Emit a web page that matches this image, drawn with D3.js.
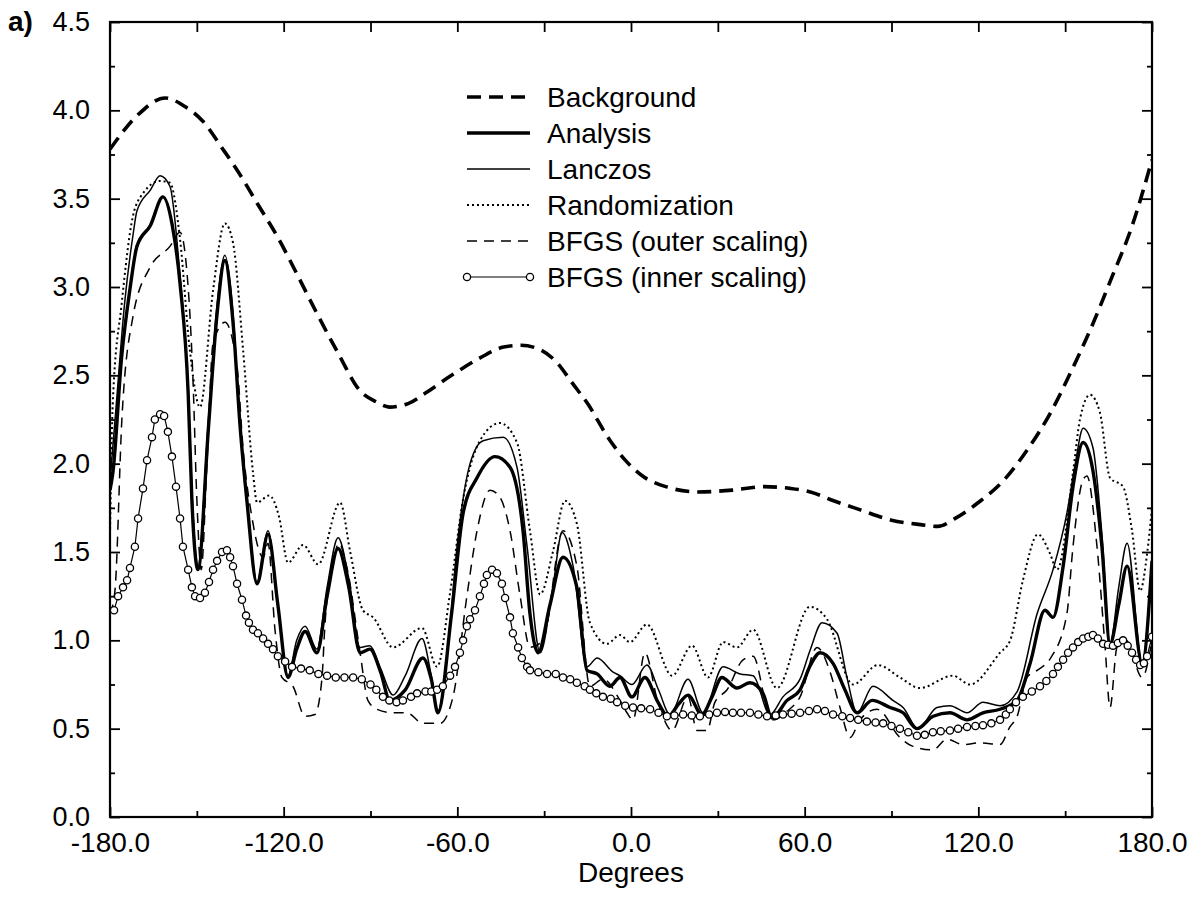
<!DOCTYPE html>
<html>
<head>
<meta charset="utf-8">
<script src="https://cdn.jsdelivr.net/npm/d3@7"></script>
<style>
  body { margin: 0; background: #fff; }
  svg { display: block; }
</style>
</head>
<body>
<svg id="chart" width="1200" height="904"></svg>
<script>
// tick values
var xTicks = [-180, -120, -60, 0, 60, 120, 180];
var xMinorTicks = [-150, -90, -30, 30, 90, 150];
var yTicks = [0, 0.5, 1, 1.5, 2, 2.5, 3, 3.5, 4, 4.5];
var yMinorTicks = [0.25, 0.75, 1.25, 1.75, 2.25, 2.75, 3.25, 3.75, 4.25];

var seriesNames = ["Background", "Analysis", "Lanczos", "Randomization",
  "BFGS (outer scaling)", "BFGS (inner scaling)"];

// [degrees, value]
var background = [[-180,3.78],[-170,3.98],[-161,4.07],[-154,4.02],[-148,3.94],[-141,3.78],
  [-136,3.66],[-129,3.47],[-122,3.28],[-115,3.06],[-108.5,2.85],[-101,2.62],[-94,2.42],
  [-88,2.35],[-83.5,2.32],[-77,2.34],[-71,2.40],[-62,2.50],[-52,2.60],[-44,2.66],[-38,2.67],
  [-32,2.65],[-26,2.58],[-20,2.45],[-15,2.34],[-8,2.15],[-2,2.02],[4,1.93],[12,1.87],
  [23,1.84],[35,1.85],[46,1.87],[55,1.86],[62,1.84],[70,1.79],[79,1.74],[90,1.68],
  [100,1.655],[106,1.645],[112,1.69],[120,1.78],[129,1.91],[137,2.08],[145,2.29],
  [152,2.52],[159,2.77],[166,3.05],[173,3.34],[180,3.72]];

var analysis = [[-180,1.85],[-179,1.95],[-176,2.6],[-173,3.0],[-170.7,3.23],[-166,3.35],
  [-161.7,3.51],[-158.5,3.35],[-155.8,3.02],[-153,2.4],[-151.7,1.79],[-149.6,1.40],
  [-146,2.2],[-143,2.85],[-140.3,3.15],[-137.5,2.8],[-135,2.2],[-132.7,1.79],[-129.2,1.32],
  [-125.4,1.60],[-122,1.2],[-118.5,0.79],[-115.5,0.95],[-112.6,1.05],[-108.5,0.93],
  [-105,1.25],[-101.2,1.52],[-97.5,1.3],[-93.6,0.93],[-90.2,0.95],[-86.5,0.82],[-83.3,0.66],
  [-78,0.72],[-71.9,0.90],[-69,0.78],[-66.7,0.59],[-62,1.15],[-58,1.72],[-53.2,1.92],
  [-47,2.04],[-41.8,1.98],[-37.3,1.62],[-34.9,1.15],[-32.1,0.93],[-28,1.2],[-23.5,1.47],
  [-18.7,1.30],[-15.2,0.83],[-11.7,0.81],[-7.3,0.74],[-3.8,0.79],[0.3,0.68],[4.8,0.79],
  [9.3,0.65],[12.8,0.57],[16.5,0.64],[19.7,0.69],[24.5,0.58],[28,0.68],[31.4,0.79],
  [36.6,0.73],[41.1,0.76],[45.6,0.70],[48.7,0.56],[53.9,0.66],[58.4,0.72],[62,0.86],
  [65.3,0.93],[69.8,0.87],[73.9,0.72],[78.1,0.59],[83.3,0.66],[89.5,0.62],[94,0.59],
  [98.8,0.50],[104.4,0.57],[110.2,0.59],[116.1,0.55],[121.6,0.59],[127.5,0.61],[133.4,0.66],
  [137.9,0.87],[143,1.17],[145.8,1.13],[149.3,1.42],[152.7,1.87],[156.2,2.12],[159.6,1.96],
  [162.7,1.53],[165.5,0.98],[168.5,1.2],[171.4,1.42],[176.6,0.87],[180,1.45]];

var lanczos = [[-180,1.9],[-178,2.3],[-175,2.9],[-172,3.3],[-170.7,3.43],[-166,3.55],
  [-162.7,3.63],[-159.3,3.57],[-156,3.1],[-153,2.4],[-151.7,1.85],[-149.6,1.42],[-146,2.25],
  [-143,2.9],[-140.3,3.18],[-137.5,2.85],[-135,2.2],[-132.7,1.8],[-129.2,1.33],[-125.4,1.62],
  [-122,1.2],[-118.5,0.80],[-115.5,1.0],[-112.6,1.08],[-108.5,0.95],[-105,1.3],[-101.2,1.58],
  [-97.5,1.35],[-93.6,0.96],[-90.2,0.97],[-86.5,0.84],[-82.2,0.69],[-78,0.80],[-72.2,1.01],
  [-69,0.80],[-66.7,0.60],[-63,1.0],[-60.1,1.53],[-55.6,2.0],[-51.1,2.13],[-44.2,2.15],
  [-39.4,1.98],[-35.9,1.53],[-31.4,0.93],[-27,1.3],[-23.8,1.61],[-20,1.42],[-15.2,0.85],
  [-11.7,0.90],[-6.2,0.82],[-3.8,0.80],[0.3,0.75],[5.5,0.86],[9.5,0.72],[13.5,0.58],
  [19.7,0.78],[24.9,0.59],[31.8,0.85],[37.7,0.81],[42.2,0.80],[48,0.58],[52.5,0.68],
  [58.4,0.78],[62,0.95],[66,1.10],[71.2,1.04],[74.6,0.79],[78.1,0.59],[83.6,0.74],
  [90.5,0.66],[94,0.62],[99.2,0.50],[105.7,0.62],[110.2,0.63],[116.1,0.59],[121.6,0.65],
  [127.5,0.63],[133.4,0.71],[140.3,1.15],[145.8,1.40],[150.6,1.72],[153.5,2.0],[156.2,2.20],
  [159.6,2.09],[162.7,1.6],[165.5,0.98],[168.5,1.3],[171.4,1.55],[176.6,0.87],[180,1.45]];

var randomization = [[-180,1.6],[-179,2.36],[-176,2.9],[-172.1,3.40],[-168.6,3.53],
  [-162.7,3.60],[-159.3,3.59],[-155.8,3.27],[-152.4,2.64],[-148.9,2.32],[-144.4,2.98],
  [-140.3,3.36],[-137.5,3.25],[-134,2.64],[-130.6,1.95],[-129.2,1.78],[-125,1.82],
  [-121.6,1.70],[-118.5,1.44],[-113.3,1.54],[-108.1,1.43],[-100.5,1.78],[-97,1.5],
  [-92.6,1.17],[-89.1,1.13],[-82.2,0.96],[-72.2,1.07],[-67,0.85],[-62.5,1.27],[-58,1.8],
  [-52.2,2.13],[-45.3,2.23],[-39.4,2.12],[-34.9,1.62],[-31.4,1.26],[-27,1.5],[-22.8,1.79],
  [-18.7,1.66],[-14.2,1.10],[-8.3,0.98],[-3.8,1.03],[-0.4,0.99],[5.5,1.09],[14.2,0.80],
  [21.1,0.97],[26.6,0.79],[31.8,0.99],[36.6,0.96],[42.2,1.06],[50.4,0.73],[61.8,1.19],
  [67.7,1.12],[76.7,0.75],[85.3,0.86],[92.9,0.79],[99.8,0.73],[111.2,0.80],[117.1,0.75],
  [127.5,0.93],[131,1.0],[135.4,1.34],[140.6,1.60],[144.8,1.49],[147.2,1.40],[152.7,1.95],
  [155.1,2.25],[158.6,2.39],[162,2.29],[165.5,1.92],[170,1.87],[173.1,1.62],[175.9,1.28],
  [178.3,1.49],[180,1.75]];

var bfgsOuter = [[-180,1.15],[-178.3,1.28],[-175.9,2.25],[-172.1,2.83],[-166.2,3.11],
  [-159.3,3.23],[-155.8,3.31],[-153.1,3.02],[-151.3,2.46],[-150,1.8],[-148.5,1.4],
  [-146.5,2.0],[-144.4,2.68],[-140.3,2.80],[-136.1,2.55],[-134,2.08],[-131,1.7],
  [-127.1,1.47],[-125.4,1.55],[-123,1.06],[-120.6,0.79],[-116.8,0.74],[-112.6,0.57],
  [-109.2,0.58],[-106.8,0.78],[-105.7,1.10],[-103,1.42],[-101,1.55],[-98,1.4],[-93.6,0.93],
  [-90.9,0.66],[-87.8,0.61],[-82.2,0.59],[-77.4,0.59],[-71.9,0.53],[-66,0.53],[-61.5,0.68],
  [-56.7,1.25],[-53.2,1.62],[-48.7,1.85],[-45.3,1.81],[-41.8,1.62],[-38.3,1.25],[-34.9,0.96],
  [-30.4,1.0],[-23.5,1.62],[-18.7,1.42],[-14.2,0.74],[-9.7,0.78],[-3.8,0.66],[-1.4,0.59],
  [0.7,0.55],[4.8,0.93],[9.3,0.65],[14.2,0.49],[19.7,0.68],[22.8,0.49],[26.3,0.49],
  [29,0.65],[33.2,0.72],[38.7,0.89],[42.2,0.91],[47,0.62],[49.1,0.55],[54,0.6],[58.4,0.68],
  [64.3,0.96],[68.8,0.82],[72.2,0.62],[75.7,0.45],[79.1,0.55],[85,0.61],[92.9,0.45],
  [97.4,0.40],[104.3,0.38],[109.2,0.44],[114.7,0.41],[120.6,0.42],[127.5,0.41],[130.9,0.51],
  [133.4,0.57],[136.8,0.79],[140.3,0.83],[145,0.9],[150.6,1.15],[152.7,1.53],[156.2,1.91],
  [157.5,1.93],[161,1.53],[163.8,0.96],[165.5,0.62],[167.9,0.96],[171,1.0],[176.6,0.79],
  [180,1.0]];

var bfgsInner = [[-178.6,1.17],[-177.2,1.25],[-175.5,1.30],[-174.1,1.34],[-173.1,1.41],
  [-171.4,1.53],[-170.3,1.69],[-168.6,1.86],[-167.2,2.02],[-165.5,2.15],[-164.5,2.25],
  [-162.7,2.28],[-161.3,2.27],[-160,2.18],[-158.6,2.04],[-157.2,1.87],[-155.8,1.69],
  [-154.8,1.53],[-153,1.40],[-151.7,1.30],[-150.6,1.25],[-148.9,1.24],[-147.2,1.27],
  [-145.8,1.33],[-144.4,1.40],[-143,1.45],[-141.3,1.50],[-139.6,1.51],[-138.5,1.47],
  [-137.5,1.42],[-136.1,1.32],[-134.4,1.23],[-133,1.14],[-132,1.10],[-130.6,1.06],
  [-128.9,1.04],[-127.1,1.01],[-125.4,0.98],[-123.7,0.95],[-122,0.91],[-119.5,0.88],
  [-117.1,0.85],[-114,0.84],[-111,0.83],[-108,0.81],[-105,0.80],[-102,0.79],[-99,0.79],
  [-96,0.79],[-93,0.78],[-90,0.75],[-88,0.72],[-85.7,0.68],[-83.5,0.66],[-81,0.65],
  [-78.8,0.66],[-76,0.68],[-73.9,0.70],[-71,0.71],[-69,0.71],[-67,0.72],[-65,0.74],
  [-62.5,0.80],[-60.8,0.85],[-59.1,0.93],[-58,1.00],[-56.7,1.08],[-55.6,1.12],[-53.9,1.17],
  [-52.2,1.25],[-50.8,1.32],[-49.8,1.37],[-48,1.40],[-46.3,1.38],[-44.6,1.32],[-43.5,1.24],
  [-41.8,1.13],[-40.8,1.04],[-39,0.96],[-37.7,0.90],[-35.9,0.85],[-34.9,0.83],[-32,0.82],
  [-29,0.81],[-26,0.81],[-23.5,0.79],[-21,0.78],[-18.7,0.76],[-16,0.74],[-14.2,0.72],
  [-12,0.70],[-9.7,0.68],[-7,0.67],[-4.8,0.65],[-2,0.63],[0.7,0.62],[3.5,0.615],[6.6,0.61],
  [9.5,0.59],[12.4,0.57],[15,0.575],[18,0.58],[21,0.575],[23.8,0.57],[27,0.58],[29.7,0.59],
  [32.5,0.595],[35.2,0.59],[38,0.59],[41.1,0.59],[44,0.58],[47,0.57],[50,0.575],[52.5,0.58],
  [55.5,0.585],[58.4,0.59],[61.5,0.60],[64.3,0.61],[67,0.60],[69.8,0.58],[73,0.57],
  [75.7,0.56],[78.5,0.55],[81.5,0.54],[84.5,0.535],[87.1,0.53],[90,0.515],[92.9,0.50],
  [95.8,0.48],[98.8,0.46],[101.5,0.465],[104.3,0.48],[107,0.485],[110.2,0.49],[113,0.50],
  [116.1,0.51],[119,0.515],[121.6,0.52],[124.5,0.53],[127.5,0.55],[129.5,0.58],[130.9,0.61],
  [133,0.65],[135.4,0.68],[138.5,0.71],[141.3,0.74],[143.5,0.77],[145.8,0.81],[147.5,0.85],
  [149.3,0.89],[151,0.93],[152.7,0.96],[154.5,0.99],[156.2,1.01],[158,1.02],[159.6,1.03],
  [161.3,1.01],[163.1,0.98],[164.8,0.975],[166.5,0.97],[168.2,0.985],[170,1.00],[171.6,0.97],
  [173.1,0.93],[174.5,0.89],[175.9,0.86],[177.2,0.87],[178.3,0.91],[180,1.02]];

var svg = d3.select("#chart");
var plotLeft = 110, plotRight = 1152, plotTop = 22, plotBottom = 817;

var x = d3.scaleLinear().domain([-180, 180]).range([plotLeft, plotRight]);
var y = d3.scaleLinear().domain([0, 4.5]).range([plotBottom, plotTop]);

var fmt = function(d) { return d.toFixed(1); };
var font = "'Liberation Sans', Arial, Helvetica, sans-serif";

svg.append("rect").attr("width", 1200).attr("height", 904).attr("fill", "#fff");

svg.append("clipPath").attr("id", "plotClip")
  .append("rect").attr("x", plotLeft).attr("y", plotTop)
  .attr("width", plotRight - plotLeft).attr("height", plotBottom - plotTop);

//axes: ticks point inward on all four sides
function styleAxis(size) {
  return function(g) {
    g.select(".domain").remove();
    g.selectAll("line").attr("stroke", "#000").attr("stroke-width", 1.8);
    g.selectAll("text").attr("font-family", font).attr("font-size", size).attr("fill", "#000");
  };
}

svg.append("g").attr("transform", "translate(0," + plotBottom + ")")
  .call(d3.axisBottom(x).tickValues(xTicks).tickFormat(fmt).tickSize(-10).tickPadding(15))
  .call(styleAxis(28));
svg.append("g").attr("transform", "translate(0," + plotBottom + ")")
  .call(d3.axisBottom(x).tickValues(xMinorTicks).tickFormat("").tickSize(-6))
  .call(styleAxis(28));
svg.append("g").attr("transform", "translate(0," + plotTop + ")")
  .call(d3.axisTop(x).tickValues(xTicks.concat(xMinorTicks)).tickFormat("").tickSize(-10))
  .call(styleAxis(28));

svg.append("g").attr("transform", "translate(" + plotLeft + ",0)")
  .call(d3.axisLeft(y).tickValues(yTicks).tickFormat(fmt).tickSize(-10).tickPadding(20))
  .call(styleAxis(27));
svg.append("g").attr("transform", "translate(" + plotLeft + ",0)")
  .call(d3.axisLeft(y).tickValues(yMinorTicks).tickFormat("").tickSize(-5))
  .call(styleAxis(27));
svg.append("g").attr("transform", "translate(" + plotRight + ",0)")
  .call(d3.axisRight(y).tickValues(yTicks).tickFormat("").tickSize(-10))
  .call(styleAxis(27));
svg.append("g").attr("transform", "translate(" + plotRight + ",0)")
  .call(d3.axisRight(y).tickValues(yMinorTicks).tickFormat("").tickSize(-5))
  .call(styleAxis(27));

// frame
svg.append("rect")
  .attr("x", plotLeft).attr("y", plotTop)
  .attr("width", plotRight - plotLeft).attr("height", plotBottom - plotTop)
  .attr("fill", "none").attr("stroke", "#000").attr("stroke-width", 2.2);

// series table
var series = [
  { name: seriesNames[0], data: background, width: 3.6, dash: "14,8", curve: d3.curveMonotoneX },
  { name: seriesNames[1], data: analysis, width: 3.4, dash: null, curve: d3.curveMonotoneX },
  { name: seriesNames[2], data: lanczos, width: 1.5, dash: null, curve: d3.curveMonotoneX },
  { name: seriesNames[3], data: randomization, width: 2, dash: "2,3", curve: d3.curveMonotoneX },
  { name: seriesNames[4], data: bfgsOuter, width: 1.5, dash: "10,7", curve: d3.curveMonotoneX },
  { name: seriesNames[5], data: bfgsInner, width: 1.2, dash: null, curve: d3.curveLinear, marker: true }
];

var plot = svg.append("g").attr("clip-path", "url(#plotClip)");

series.forEach(function(s) {
  var line = d3.line()
    .x(function(d) { return x(d[0]); })
    .y(function(d) { return y(d[1]); })
    .curve(s.curve);
  plot.append("path")
    .datum(s.data)
    .attr("d", line)
    .attr("fill", "none")
    .attr("stroke", "#000")
    .attr("stroke-width", s.width)
    .attr("stroke-dasharray", s.dash);
  if (s.marker) {
    plot.selectAll(null)
      .data(s.data)
      .enter().append("circle")
      .attr("cx", function(d) { return x(d[0]); })
      .attr("cy", function(d) { return y(d[1]); })
      .attr("r", 3.6)
      .attr("fill", "#fff")
      .attr("stroke", "#000")
      .attr("stroke-width", 1.3);
  }
});

// legend
var legend = svg.append("g");
series.forEach(function(s, i) {
  var base = 107 + i * 36;
  var ly = base - 10;
  legend.append("line")
    .attr("x1", 467).attr("x2", 530).attr("y1", ly).attr("y2", ly)
    .attr("stroke", "#000")
    .attr("stroke-width", s.width)
    .attr("stroke-dasharray", s.dash);
  if (s.marker) {
    [467, 530].forEach(function(cx) {
      legend.append("circle").attr("cx", cx).attr("cy", ly).attr("r", 3.6)
        .attr("fill", "#fff").attr("stroke", "#000").attr("stroke-width", 1.3);
    });
  }
  legend.append("text")
    .attr("x", 547).attr("y", base)
    .attr("font-family", font).attr("font-size", 28)
    .text(s.name);
});

// labels
svg.append("text")
  .attr("x", (plotLeft + plotRight) / 2).attr("y", 882)
  .attr("text-anchor", "middle")
  .attr("font-family", font).attr("font-size", 28)
  .text("Degrees");

svg.append("text")
  .attr("x", 8).attr("y", 31)
  .attr("font-family", font).attr("font-size", 28).attr("font-weight", "bold")
  .text("a)");
</script>
</body>
</html>
